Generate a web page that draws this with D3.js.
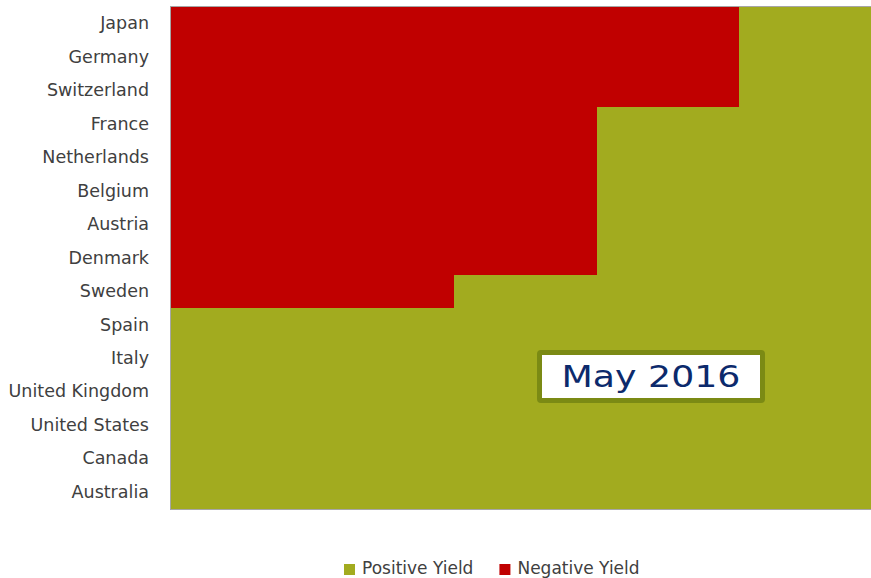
<!DOCTYPE html>
<html>
<head>
<meta charset="utf-8">
<script src="https://cdn.jsdelivr.net/npm/d3@7"></script>
<style>
  body { margin: 0; background: #fff; }
  svg { display: block; }
</style>
</head>
<body>
<script>
// countries top to bottom, count of maturities with negative / positive yield
const countries = ['Japan', 'Germany', 'Switzerland', 'France', 'Netherlands', 'Belgium',
  'Austria', 'Denmark', 'Sweden', 'Spain', 'Italy', 'United Kingdom', 'United States',
  'Canada', 'Australia'];
const negativeYield = [4, 4, 4, 3, 3, 3, 3, 3, 2, 0, 0, 0, 0, 0, 0];
const positiveYield = [1, 1, 1, 2, 2, 2, 2, 2, 3, 5, 5, 5, 5, 5, 5];
const seriesNames = ['Negative Yield', 'Positive Yield'];
const legendOrder = ['Positive Yield', 'Negative Yield'];
const stampLabel = 'May 2016';

const colors = { 'Negative Yield': '#c00000', 'Positive Yield': '#a2ab1f' };

const width = 871;
const height = 578;
const margin = { top: 7, left: 170, bottom: 69 };
// plot runs past the right edge of the picture, like the cropped original
const plotWidth = 711;

const svg = d3.select('body').append('svg')
  .attr('width', width)
  .attr('height', height);

const rows = countries.map((c, i) => ({
  country: c,
  'Negative Yield': negativeYield[i],
  'Positive Yield': positiveYield[i],
}));

const stacked = d3.stack().keys(seriesNames)(rows);

const x = d3.scaleLinear()
  .domain([0, d3.max(rows, d => d['Negative Yield'] + d['Positive Yield'])])
  .range([margin.left, margin.left + plotWidth]);

const y = d3.scaleBand()
  .domain(countries)
  .range([margin.top, height - margin.bottom])
  .padding(0);

svg.append('g')
  .attr('shape-rendering', 'crispEdges')
  .selectAll('g')
  .data(stacked)
  .join('g')
  .attr('fill', d => colors[d.key])
  .selectAll('rect')
  .data(d => d)
  .join('rect')
  .attr('x', d => Math.round(x(d[0])))
  .attr('y', d => Math.round(y(d.data.country)))
  .attr('width', d => Math.round(x(d[1])) - Math.round(x(d[0])))
  .attr('height', d => Math.round(y(d.data.country) + y.bandwidth()) - Math.round(y(d.data.country)));

// plot area border
svg.append('rect')
  .attr('x', margin.left + 0.5)
  .attr('y', margin.top - 0.5)
  .attr('width', plotWidth)
  .attr('height', height - margin.bottom - margin.top + 1)
  .attr('fill', 'none')
  .attr('stroke', '#a6a6a6')
  .attr('stroke-width', 1);

// category axis
const yAxis = svg.append('g')
  .attr('transform', `translate(${margin.left},0)`)
  .call(d3.axisLeft(y).tickSize(0).tickPadding(21));
yAxis.select('.domain').remove();
yAxis.selectAll('text')
  .attr('fill', '#404040')
  .style('font-family', 'DejaVu Sans, sans-serif')
  .style('font-size', '17.5px');

// date stamp box
const stamp = svg.append('g').attr('transform', 'translate(651,376.5)');
stamp.append('rect')
  .attr('x', -111.5)
  .attr('y', -24)
  .attr('width', 223)
  .attr('height', 48)
  .attr('rx', 1.5)
  .attr('fill', '#fff')
  .attr('stroke', '#7b8a14')
  .attr('stroke-width', 5);
stamp.append('text')
  .attr('text-anchor', 'middle')
  .attr('dy', '0.36em')
  .attr('transform', 'scale(1.19,1)')
  .attr('fill', '#0c2a6c')
  .style('font-family', 'DejaVu Sans, sans-serif')
  .style('font-size', '30.5px')
  .text(stampLabel);

// legend
const legend = svg.append('g').attr('transform', 'translate(344,0)');
let lx = 0;
legendOrder.forEach((name) => {
  const item = legend.append('g').attr('transform', `translate(${lx},0)`);
  item.append('rect')
    .attr('x', 0)
    .attr('y', 564)
    .attr('width', 11)
    .attr('height', 11)
    .attr('fill', colors[name]);
  const t = item.append('text')
    .attr('x', 18)
    .attr('y', 574)
    .attr('fill', '#404040')
    .style('font-family', 'DejaVu Sans, sans-serif')
    .style('font-size', '17px')
    .text(name);
  lx += 18 + t.node().getComputedTextLength() + 26;
});
</script>
</body>
</html>
